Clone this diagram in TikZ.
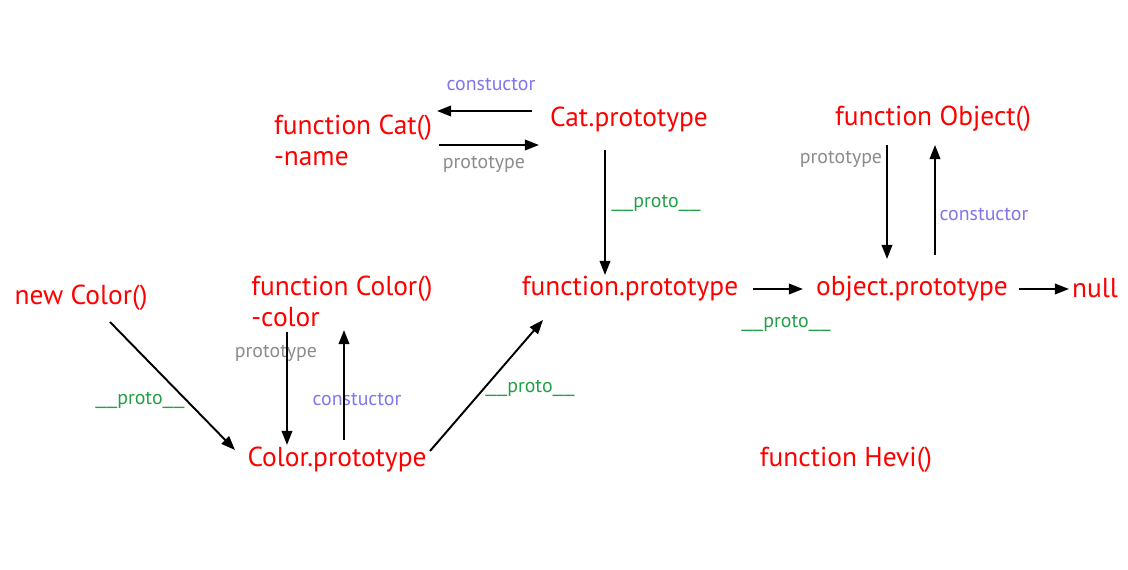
\documentclass[tikz,border=0pt]{standalone}
\usepackage{fontspec}
\setmainfont{PT Sans}
\usetikzlibrary{calc,positioning,arrows.meta}
\definecolor{fnred}{RGB}{255,0,0}
\definecolor{ctorblue}{RGB}{128,118,238}
\definecolor{protgray}{RGB}{140,140,140}
\definecolor{protogreen}{RGB}{34,160,72}
\newcommand{\unders}{\scalebox{1.35}[1]{\_\_}}

\begin{document}
\begin{tikzpicture}[x=0.02cm,y=-0.02cm,
  obj/.style={text=fnred,font=\fontsize{15.6}{17.6}\selectfont,inner sep=0pt},
  lab/.style={font=\fontsize{11.3}{13}\selectfont,inner sep=0pt},
  ctor/.style={lab,text=ctorblue},
  prot/.style={lab,text=protgray},
  pro/.style={lab,text=protogreen},
  arr/.style={-{Triangle[length=8pt,width=6pt]},line width=1.1pt}]
    \useasboundingbox[fill=white] (0,0) rectangle (1128,570);

    % objects
    \node[obj,align=left] (catfn) at (353,140) {function Cat()\\-name};
    \node[obj] (catproto) at (629,120) {Cat.prototype};
    \node[obj] (fnobj) at (933,119) {function Object()};
    \node[obj] (fnproto) at (630,289) {function.prototype};
    \node[obj] (objproto) at (912,289) {object.prototype};
    \node[obj] (null) at (1095,288) {null};
    \node[obj] (newcolor) at (81,298) {new Color()};
    \node[obj,align=left] (colorfn) at (342,301) {function Color()\\-color};
    \node[obj] (colorproto) at (337,460) {Color.prototype};
    \node[obj] (hevi) at (846,460) {function Hevi()};

    % labels
    \node[ctor] (catctor) at (491,84) {constuctor};
    \node[prot] (catprot) at (484,164) {prototype};
    \node[pro] (catpro) at (656,203) {\unders proto\unders};
    \node[pro] (fnpro) at (786,323) {\unders proto\unders};
    \node[prot] (objprot) at (841,159) {prototype};
    \node[ctor] (objctor) at (984,214) {constuctor};
    \node[prot] (colprot) at (276,353) {prototype};
    \node[ctor] (colctor) at (357,399) {constuctor};
    \node[pro] (newpro) at (140,400) {\unders proto\unders};
    \node[pro] (colpro) at (530,388) {\unders proto\unders};

    % links
    \draw[arr] ($(catproto)+(-97,-9)$) -- ($(catfn)+(84,-29)$);
    \draw[arr] ($(catfn)+(86,5)$) -- ($(catproto)+(-90,25)$);
    \draw[arr] ($(catproto)+(-24,30)$) -- ($(fnproto)+(-25,-14)$);
    \draw[arr] ($(fnproto)+(123,0)$) -- ($(objproto)+(-109,0)$);
    \draw[arr] ($(objproto)+(107,0)$) -- ($(null)+(-26,1)$);
    \draw[arr] ($(fnobj)+(-46,26)$) -- ($(objproto)+(-25,-30)$);
    \draw[arr] ($(objproto)+(23,-34)$) -- ($(fnobj)+(2,26)$);
    \draw[arr] ($(newcolor)+(29,24)$) -- ($(colorproto)+(-102,-10)$);
    \draw[arr] ($(colorfn)+(-55,31)$) -- ($(colorproto)+(-50,-15)$);
    \draw[arr] ($(colorproto)+(7,-20)$) -- ($(colorfn)+(2,29)$);
    \draw[arr] ($(colorproto)+(93,-9)$) -- ($(fnproto)+(-87,31)$);
\end{tikzpicture}
\end{document}
